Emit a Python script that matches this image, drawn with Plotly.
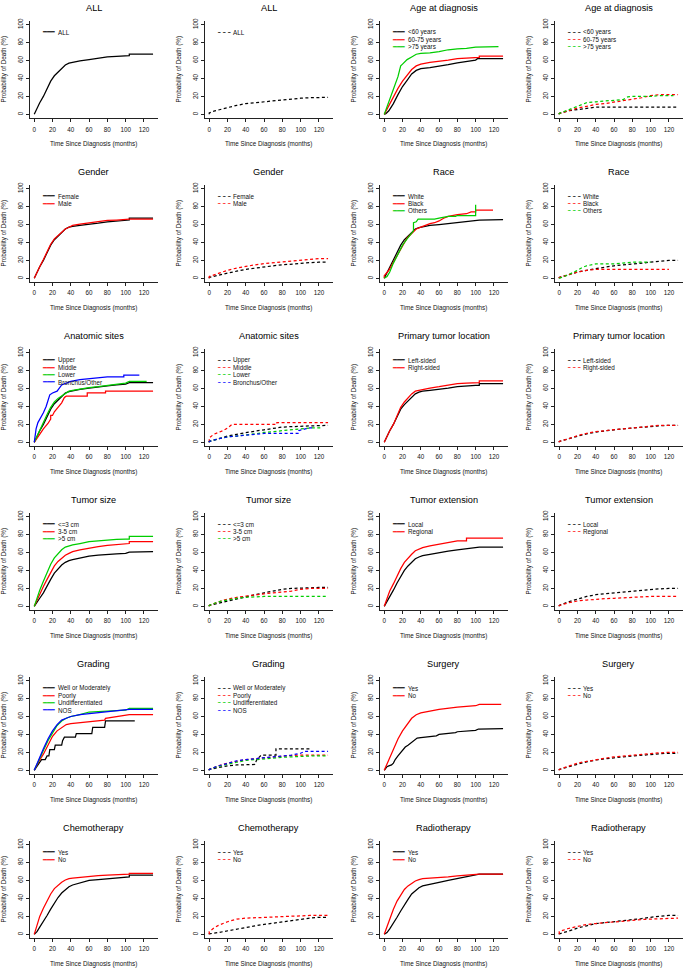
import plotly.graph_objects as go

# ---------------- data ----------------
BLACK, RED, GREEN, BLUE = "#000000", "#FF0000", "#00CD00", "#0000FF"

# Row 1
all_s_t = [0, 3, 6, 10, 14, 18, 22, 26, 30, 34, 38, 42, 50, 60, 70, 80, 90, 100, 104, 104, 130]
all_s_v = [0, 7, 13, 20, 29, 37, 43, 47, 51, 55, 57, 58, 59.5, 61, 62.5, 64, 64.5, 65.5, 65.5, 67, 67]
all_d_t = [0, 0, 5, 10, 20, 30, 40, 50, 60, 70, 80, 90, 100, 110, 120, 130]
all_d_v = [0, 1.5, 3.5, 5, 7.5, 10, 12, 13, 14, 15, 16.5, 17.5, 18, 18.5, 19, 19]

age_lt60_s_t = [0, 2, 5, 10, 15, 20, 25, 30, 35, 40, 50, 60, 70, 80, 90, 100, 102, 130]
age_lt60_s_v = [0, 1, 4, 12, 22, 31, 38, 45, 49, 51, 52, 53.5, 55.5, 57.5, 59, 60.5, 62, 62]
age_6075_s_t = [0, 2, 5, 10, 15, 20, 25, 30, 35, 40, 50, 60, 70, 80, 90, 100, 104, 104, 130]
age_6075_s_v = [0, 4, 10, 19, 29, 37, 44, 50, 54, 56, 58, 59, 60.5, 62, 62.5, 63.5, 63.5, 65, 65]
age_gt75_s_t = [0, 2, 5, 10, 15, 18, 20, 25, 30, 35, 40, 50, 60, 70, 80, 90, 100, 125]
age_gt75_s_v = [0, 6, 15, 28, 42, 54, 56, 61, 64, 67, 68, 68.5, 70, 72, 73, 73.5, 75, 75.5]
age_lt60_d_t = [0, 0, 10, 20, 30, 40, 130]
age_lt60_d_v = [0, 1, 4, 5.5, 6.5, 8, 8]
age_6075_d_t = [0, 0, 10, 20, 30, 40, 50, 60, 70, 80, 90, 100, 110, 130]
age_6075_d_v = [0, 1, 4, 7, 9, 11, 12, 13.5, 15, 17, 18.5, 21, 22, 22]
age_gt75_d_t = [0, 0, 10, 20, 30, 40, 50, 60, 70, 75, 80, 90, 100, 110, 125]
age_gt75_d_v = [0, 1, 5, 9, 13, 14, 15, 16, 16.5, 19.5, 20, 20, 20, 21, 21]

# Row 2
fem_s_t = [0, 3, 6, 10, 14, 18, 22, 26, 30, 34, 38, 42, 50, 60, 70, 80, 90, 100, 104, 104, 130]
fem_s_v = [0, 7, 13, 20, 29, 37, 43, 47, 51, 55, 57, 58, 59, 60, 61.5, 63, 64, 65, 65, 67, 67]
male_s_t = [0, 3, 6, 10, 14, 18, 22, 26, 30, 34, 38, 42, 50, 60, 70, 80, 90, 100, 104, 130]
male_s_v = [0, 7, 13, 21, 30, 38, 44, 48, 52, 55, 57, 59, 60.5, 62, 63, 64.5, 65, 65.5, 66, 66]
fem_d_t = [0, 0, 10, 20, 30, 40, 50, 60, 70, 80, 90, 100, 110, 120, 130]
fem_d_v = [0, 1, 3.5, 6, 8, 10, 11.5, 13, 14, 15, 16, 17, 17.5, 18, 18]
male_d_t = [0, 0, 10, 20, 30, 40, 50, 60, 70, 80, 90, 100, 110, 120, 130]
male_d_v = [0, 2, 5.5, 9, 11.5, 13.5, 15, 16.5, 17.5, 18.5, 19.5, 20.5, 21.5, 22, 22]

white_s_t = [0, 3, 6, 10, 14, 18, 22, 26, 30, 34, 38, 42, 50, 60, 70, 80, 90, 100, 104, 130]
white_s_v = [0, 6, 12, 20, 29, 37, 43, 47, 51, 55, 56.5, 57.5, 59, 60, 61, 62.5, 63.5, 64, 65, 65.5]
black_s_t = [0, 0, 5, 10, 15, 20, 25, 30, 35, 40, 45, 50, 55, 60, 65, 70, 80, 90, 95, 100, 100, 119]
black_s_v = [0, 3, 9, 18, 28, 37, 45, 50, 55, 57, 59, 61, 62, 64, 67, 69, 71, 72, 74, 74, 76, 76]
other_s_t = [0, 3, 6, 10, 15, 20, 25, 30, 32, 32, 35, 37, 55, 60, 70, 78, 80, 100, 100]
other_s_v = [0, 2, 7, 17, 27, 37, 44, 51, 53, 62, 63, 66, 66, 67, 69, 69, 70, 70, 82]
white_d_t = [0, 0, 10, 20, 30, 40, 50, 60, 70, 80, 90, 100, 110, 120, 130]
white_d_v = [0, 1, 4, 7, 9, 11, 12.5, 14, 15, 16.5, 17.5, 18.5, 19.5, 20, 20]
black_d_t = [0, 0, 10, 20, 30, 40, 120]
black_d_v = [0, 1, 4, 7, 9, 10, 10]
other_d_t = [0, 0, 10, 20, 25, 30, 40, 60, 70, 80, 100]
other_d_v = [0, 0, 4, 9, 12, 14, 16, 16, 17, 18, 18]

# Row 3
upper_s_t = [0, 3, 6, 10, 14, 18, 22, 26, 30, 34, 38, 42, 50, 60, 70, 80, 90, 100, 104, 130]
upper_s_v = [0, 7, 13, 20, 29, 37, 43, 47, 51, 55, 56.5, 57.5, 59, 60.5, 62, 63, 64, 65, 66.5, 66.5]
middle_s_t = [0, 5, 10, 15, 18, 18, 20, 22, 25, 28, 30, 33, 35, 58, 58, 78, 78, 130]
middle_s_v = [0, 8, 15, 21, 26, 30, 30, 34, 38, 41, 44, 50, 51.5, 51.5, 55, 55, 57, 57]
lower_s_t = [0, 3, 6, 10, 14, 18, 22, 26, 30, 34, 38, 42, 50, 60, 70, 80, 90, 100, 104, 123]
lower_s_v = [0, 7, 14, 22, 31, 39, 45, 49, 52, 55, 57, 58, 59.5, 61, 62, 63.5, 65, 66, 68, 68]
bronch_s_t = [0, 1, 2, 4, 7, 10, 13, 17, 20, 25, 30, 35, 40, 50, 60, 70, 80, 98, 98, 115]
bronch_s_v = [0, 8, 15, 22, 27, 33, 40, 53, 55, 57, 64, 66, 68, 70, 71, 72, 73, 73, 75, 75]
upper_d_t = [0, 0, 10, 20, 30, 40, 50, 60, 70, 80, 90, 100, 110, 120, 130]
upper_d_v = [0, 1, 4, 7, 9, 11, 12.5, 14, 15.5, 17, 17.5, 18, 18.5, 19, 19]
middle_d_t = [0, 0, 5, 10, 15, 20, 25, 74, 74, 130]
middle_d_v = [0, 5, 9, 11, 13, 16, 20, 20, 22, 22]
lower_d_t = [0, 0, 10, 20, 30, 40, 50, 60, 70, 80, 90, 100, 110, 122]
lower_d_v = [0, 1, 4, 6, 7, 8, 9.5, 11, 12, 13, 14, 15, 16, 16]
bronch_d_t = [0, 0, 10, 20, 30, 40, 60, 98, 98, 105, 110, 115]
bronch_d_v = [0, 1, 4, 6, 7, 8, 10, 10, 13, 15, 16, 16]

left_s_t = [0, 3, 6, 10, 14, 18, 22, 26, 30, 34, 38, 42, 50, 60, 70, 80, 90, 100, 104, 104, 130]
left_s_v = [0, 7, 13, 20, 29, 37, 42, 46, 50, 54, 56, 57, 58, 59, 60.5, 62, 63, 63.5, 63.5, 65.5, 65.5]
right_s_t = [0, 3, 6, 10, 14, 18, 22, 26, 30, 34, 38, 42, 50, 60, 70, 80, 90, 100, 104, 104, 130]
right_s_v = [0, 7, 13, 20, 30, 39, 45, 50, 54, 57, 58, 59, 60.5, 62, 63.5, 65.5, 66, 66.5, 66.5, 68.5, 68.5]
left_d_t = [0, 0, 10, 20, 30, 40, 50, 60, 70, 80, 90, 100, 110, 120, 130]
left_d_v = [0, 1, 4, 7, 9.5, 11.5, 13, 14, 15, 16, 17, 18, 18.5, 19, 19]
right_d_t = [0, 0, 10, 20, 30, 40, 50, 60, 70, 80, 90, 100, 110, 120, 130]
right_d_v = [0, 1, 4, 7.5, 10, 12, 13, 14, 15.5, 16.5, 17.5, 18.5, 19, 19, 19]

# Row 4
sz3_s_t = [0, 3, 6, 10, 14, 18, 22, 26, 30, 34, 38, 42, 50, 60, 70, 80, 90, 100, 104, 130]
sz3_s_v = [0, 4, 9, 15, 23, 30, 37, 42, 46, 49, 51, 52, 54, 56, 57, 58, 58.5, 59, 60.5, 61]
sz35_s_t = [0, 3, 6, 10, 14, 18, 22, 26, 30, 34, 38, 42, 50, 60, 70, 80, 90, 100, 104, 104, 130]
sz35_s_v = [0, 7, 14, 22, 30, 38, 45, 50, 54, 57, 59, 61, 63, 65, 66.5, 68, 69, 70, 70, 72, 72]
sz5_s_t = [0, 3, 6, 10, 14, 18, 22, 26, 30, 34, 38, 42, 50, 60, 70, 80, 90, 100, 104, 104, 130]
sz5_s_v = [0, 10, 18, 28, 38, 47, 54, 59, 63, 66, 67.5, 68.5, 70, 72, 73, 74, 74.5, 75, 75, 78, 78]
sz3_d_t = [0, 0, 10, 20, 30, 40, 50, 60, 70, 80, 90, 100, 110, 120, 130]
sz3_d_v = [0, 1, 3.5, 6, 8.5, 11, 13, 15, 17, 19, 20, 20.5, 21, 21, 21]
sz35_d_t = [0, 0, 10, 20, 30, 40, 50, 60, 70, 80, 90, 100, 110, 120, 130]
sz35_d_v = [0, 1, 5, 8, 10, 11.5, 13, 14, 15, 16, 17, 19, 20, 20, 20]
sz5_d_t = [0, 0, 10, 20, 30, 40, 50, 60, 80, 100, 130]
sz5_d_v = [0, 1, 5, 7, 9, 10, 10.5, 11, 11, 11, 11]

local_s_t = [0, 3, 6, 10, 14, 18, 22, 26, 30, 34, 38, 42, 50, 60, 70, 80, 90, 100, 104, 130]
local_s_v = [0, 5, 11, 18, 26, 33, 40, 45, 49, 53, 55, 56.5, 58, 60, 61.5, 63, 64, 65, 66, 66]
regional_s_t = [0, 3, 6, 10, 14, 18, 22, 26, 30, 34, 38, 42, 50, 60, 70, 80, 90, 90, 130]
regional_s_v = [0, 9, 17, 25, 34, 42, 49, 54, 58, 62, 64, 65.5, 67.5, 69.5, 71, 73, 73, 76, 76]
local_d_t = [0, 0, 10, 20, 30, 40, 50, 60, 70, 80, 90, 100, 110, 120, 130]
local_d_v = [0, 1, 5, 8, 11, 13, 14, 15, 16, 17, 18, 19, 19.5, 20, 20]
regional_d_t = [0, 0, 10, 20, 30, 40, 50, 60, 70, 80, 90, 100, 130]
regional_d_v = [0, 1, 4, 6, 7, 8, 8.5, 9, 9.5, 10, 10.5, 11, 11]

# Row 5
well_s_t = [0, 3, 6, 8, 12, 14, 16, 17, 22, 23, 30, 31, 33, 45, 46, 63, 64, 77, 78, 110]
well_s_v = [0, 5, 10, 12, 12, 16, 16, 23, 23, 28, 28, 33, 37, 37, 41, 41, 48, 48, 55, 55]
poor_s_t = [0, 5, 10, 15, 20, 25, 30, 35, 40, 50, 60, 70, 77, 78, 90, 100, 104, 130]
poor_s_v = [0, 10, 18, 28, 38, 44, 48, 51, 52, 53, 54, 55, 56, 58, 59.5, 61, 62, 62]
undiff_s_t = [0, 5, 10, 15, 20, 25, 30, 35, 40, 50, 60, 80, 100, 104, 130]
undiff_s_v = [0, 12, 22, 33, 42, 50, 55, 58, 60, 62, 65, 66, 67, 69, 69]
nos_s_t = [0, 5, 10, 15, 20, 25, 30, 35, 40, 50, 60, 80, 100, 104, 130]
nos_s_v = [0, 13, 24, 35, 44, 51, 56, 58, 60, 62, 63, 65, 67, 68, 68]
well_d_t = [0, 0, 10, 20, 30, 50, 52, 57, 73, 73, 112]
well_d_v = [0, 1, 3, 5, 6, 6.5, 12, 17, 17, 24, 24]
poor_d_t = [0, 0, 10, 20, 30, 40, 50, 60, 70, 80, 90, 100, 110, 130]
poor_d_v = [0, 1, 5, 8, 10, 12, 13, 14, 15, 16, 16.5, 17, 17, 17]
undiff_d_t = [0, 0, 10, 20, 30, 40, 50, 60, 70, 80, 90, 100, 110, 130]
undiff_d_v = [0, 1, 4.5, 7, 9, 11, 12, 13, 14, 14.5, 15, 15.5, 16, 16]
nos_d_t = [0, 0, 10, 20, 30, 40, 50, 60, 70, 80, 90, 100, 104, 130]
nos_d_v = [0, 1, 5, 8, 10.5, 12, 13, 14, 15, 16, 17, 19, 21, 21]

surg_yes_s_t = [0, 3, 5, 8, 10, 12, 15, 18, 20, 23, 26, 30, 33, 36, 40, 50, 57, 60, 70, 78, 80, 100, 103, 130]
surg_yes_s_v = [0, 4, 5, 6, 8, 12, 16, 20, 22, 26, 28, 31, 34, 36, 36.5, 38, 38.5, 40, 41, 42, 43, 44.5, 46, 46.5]
surg_no_s_t = [0, 5, 10, 15, 20, 25, 30, 35, 40, 50, 60, 80, 100, 104, 128]
surg_no_s_v = [0, 12, 24, 35, 44, 51, 58, 62, 64, 66, 68, 70.5, 72, 73.5, 73.5]
surg_yes_d_t = [0, 0, 10, 20, 30, 40, 50, 60, 70, 80, 90, 100, 110, 120, 130]
surg_yes_d_v = [0, 1, 4, 7, 9.5, 11.5, 13, 14, 15, 16, 17, 18, 18.5, 19, 19]
surg_no_d_t = [0, 0, 10, 20, 30, 40, 50, 60, 70, 80, 90, 100, 110, 120, 130]
surg_no_d_v = [0, 1, 4.5, 8, 10, 12, 13.5, 15, 16, 17, 18, 19, 19.5, 20, 20]

# Row 6
chemo_yes_s_t = [0, 3, 6, 10, 14, 18, 22, 26, 30, 34, 38, 42, 50, 60, 70, 80, 90, 100, 104, 104, 130]
chemo_yes_s_v = [0, 3, 8, 14, 21, 28, 35, 41, 46, 50, 53, 55, 57.5, 60, 61, 62, 63, 64, 64, 66, 66]
chemo_no_s_t = [0, 3, 6, 10, 14, 18, 22, 26, 30, 34, 38, 42, 50, 60, 70, 80, 90, 100, 104, 104, 130]
chemo_no_s_v = [0, 11, 20, 29, 38, 45, 51, 55, 58, 60.5, 62, 62.5, 63.5, 64.5, 65.5, 66, 66.5, 67, 67, 68, 68]
chemo_yes_d_t = [0, 0, 10, 20, 30, 40, 50, 60, 70, 80, 90, 100, 110, 120, 130]
chemo_yes_d_v = [0, 0.5, 2, 4, 6, 8, 9.5, 11, 12.5, 14, 15.5, 17, 18, 19, 19]
chemo_no_d_t = [0, 0, 5, 10, 20, 30, 40, 50, 60, 70, 80, 90, 100, 110, 130]
chemo_no_d_v = [0, 3, 7, 10, 14, 17, 18, 18.5, 19, 19.5, 20, 20.5, 21, 21, 21]

radio_yes_s_t = [0, 3, 6, 10, 14, 18, 22, 26, 30, 34, 38, 42, 50, 60, 70, 80, 90, 100, 104, 130]
radio_yes_s_v = [0, 2, 6, 12, 19, 26, 33, 39, 45, 49, 52, 54, 56, 58, 60, 62, 64, 66, 67, 67]
radio_no_s_t = [0, 3, 6, 10, 14, 18, 22, 26, 30, 34, 38, 42, 50, 60, 70, 80, 90, 100, 104, 130]
radio_no_s_v = [0, 9, 18, 28, 37, 44, 50, 54, 57, 59.5, 61, 62, 62.5, 63, 64, 65, 66, 66.5, 67, 67]
radio_yes_d_t = [0, 0, 10, 20, 30, 40, 50, 60, 70, 80, 90, 100, 110, 120, 130]
radio_yes_d_v = [0, 0.5, 3.5, 7, 9.5, 12, 13, 14, 15, 16, 17.5, 19, 20, 21, 21]
radio_no_d_t = [0, 0, 10, 20, 30, 40, 50, 60, 70, 80, 90, 100, 110, 120, 130]
radio_no_d_v = [0, 3, 6.5, 9, 11, 12, 13, 14, 15, 16, 16.5, 17, 17.5, 18, 18]

x_ticks = [0, 20, 40, 60, 80, 100, 120]
y_ticks = [0, 20, 40, 60, 80, 100]
x_title = "Time Since Diagnosis (months)"
y_title = "Probability of Death (%)"

panels = [
    ("ALL", False, [("ALL", BLACK, all_s_t, all_s_v)]),
    ("ALL", True, [("ALL", BLACK, all_d_t, all_d_v)]),
    ("Age at diagnosis", False, [("&lt;60 years", BLACK, age_lt60_s_t, age_lt60_s_v),
                                 ("60-75 years", RED, age_6075_s_t, age_6075_s_v),
                                 ("&gt;75 years", GREEN, age_gt75_s_t, age_gt75_s_v)]),
    ("Age at diagnosis", True, [("&lt;60 years", BLACK, age_lt60_d_t, age_lt60_d_v),
                                ("60-75 years", RED, age_6075_d_t, age_6075_d_v),
                                ("&gt;75 years", GREEN, age_gt75_d_t, age_gt75_d_v)]),
    ("Gender", False, [("Female", BLACK, fem_s_t, fem_s_v), ("Male", RED, male_s_t, male_s_v)]),
    ("Gender", True, [("Female", BLACK, fem_d_t, fem_d_v), ("Male", RED, male_d_t, male_d_v)]),
    ("Race", False, [("White", BLACK, white_s_t, white_s_v), ("Black", RED, black_s_t, black_s_v),
                     ("Others", GREEN, other_s_t, other_s_v)]),
    ("Race", True, [("White", BLACK, white_d_t, white_d_v), ("Black", RED, black_d_t, black_d_v),
                    ("Others", GREEN, other_d_t, other_d_v)]),
    ("Anatomic sites", False, [("Upper", BLACK, upper_s_t, upper_s_v), ("Middle", RED, middle_s_t, middle_s_v),
                               ("Lower", GREEN, lower_s_t, lower_s_v),
                               ("Bronchus/Other", BLUE, bronch_s_t, bronch_s_v)]),
    ("Anatomic sites", True, [("Upper", BLACK, upper_d_t, upper_d_v), ("Middle", RED, middle_d_t, middle_d_v),
                              ("Lower", GREEN, lower_d_t, lower_d_v),
                              ("Bronchus/Other", BLUE, bronch_d_t, bronch_d_v)]),
    ("Primary tumor location", False, [("Left-sided", BLACK, left_s_t, left_s_v),
                                       ("Right-sided", RED, right_s_t, right_s_v)]),
    ("Primary tumor location", True, [("Left-sided", BLACK, left_d_t, left_d_v),
                                      ("Right-sided", RED, right_d_t, right_d_v)]),
    ("Tumor size", False, [("&lt;=3 cm", BLACK, sz3_s_t, sz3_s_v), ("3-5 cm", RED, sz35_s_t, sz35_s_v),
                           ("&gt;5 cm", GREEN, sz5_s_t, sz5_s_v)]),
    ("Tumor size", True, [("&lt;=3 cm", BLACK, sz3_d_t, sz3_d_v), ("3-5 cm", RED, sz35_d_t, sz35_d_v),
                          ("&gt;5 cm", GREEN, sz5_d_t, sz5_d_v)]),
    ("Tumor extension", False, [("Local", BLACK, local_s_t, local_s_v),
                                ("Regional", RED, regional_s_t, regional_s_v)]),
    ("Tumor extension", True, [("Local", BLACK, local_d_t, local_d_v),
                               ("Regional", RED, regional_d_t, regional_d_v)]),
    ("Grading", False, [("Well or Moderately", BLACK, well_s_t, well_s_v), ("Poorly", RED, poor_s_t, poor_s_v),
                        ("Undifferentiated", GREEN, undiff_s_t, undiff_s_v), ("NOS", BLUE, nos_s_t, nos_s_v)]),
    ("Grading", True, [("Well or Moderately", BLACK, well_d_t, well_d_v), ("Poorly", RED, poor_d_t, poor_d_v),
                       ("Undifferentiated", GREEN, undiff_d_t, undiff_d_v), ("NOS", BLUE, nos_d_t, nos_d_v)]),
    ("Surgery", False, [("Yes", BLACK, surg_yes_s_t, surg_yes_s_v), ("No", RED, surg_no_s_t, surg_no_s_v)]),
    ("Surgery", True, [("Yes", BLACK, surg_yes_d_t, surg_yes_d_v), ("No", RED, surg_no_d_t, surg_no_d_v)]),
    ("Chemotherapy", False, [("Yes", BLACK, chemo_yes_s_t, chemo_yes_s_v), ("No", RED, chemo_no_s_t, chemo_no_s_v)]),
    ("Chemotherapy", True, [("Yes", BLACK, chemo_yes_d_t, chemo_yes_d_v), ("No", RED, chemo_no_d_t, chemo_no_d_v)]),
    ("Radiotherapy", False, [("Yes", BLACK, radio_yes_s_t, radio_yes_s_v), ("No", RED, radio_no_s_t, radio_no_s_v)]),
    ("Radiotherapy", True, [("Yes", BLACK, radio_yes_d_t, radio_yes_d_v), ("No", RED, radio_no_d_t, radio_no_d_v)]),
]

# ---------------- layout ----------------
W, H = 685, 972
FONT = "Liberation Sans, Arial, Helvetica, sans-serif"
MONO = "DejaVu Sans Mono, monospace"
AX = "#222222"
PW, PH = 128.3, 97.2          # plot-area size in px
X0, DX = 29.5, 175.0           # left of first column, column pitch
Y0, DY = 18.1, 164.5           # top of first row, row pitch
DASH = "3px,2.5px"

fig = go.Figure()
annotations = []
layout_axes = {}

for i, (title, dashed, series) in enumerate(panels):
    r, c = divmod(i, 4)
    n = i + 1
    sfx = "" if n == 1 else str(n)
    xa, ya = "x" + sfx, "y" + sfx
    left = X0 + DX * c
    top = Y0 + DY * r
    xdom = [left / W, (left + PW) / W]
    ydom = [1 - (top + PH) / H, 1 - top / H]
    layout_axes["xaxis" + sfx] = dict(
        domain=xdom, anchor=ya, range=[-5.2, 135.2], tickvals=x_ticks,
        ticks="outside", ticklen=3, tickwidth=1, tickcolor=AX,
        showline=True, linecolor=AX, linewidth=1, showgrid=False, zeroline=False,
        tickfont=dict(family=FONT, size=6.3, color="#111"), ticklabelstandoff=2,
        fixedrange=True)
    layout_axes["yaxis" + sfx] = dict(
        domain=ydom, anchor=xa, range=[-4, 104], tickvals=y_ticks,
        ticks="outside", ticklen=3, tickwidth=1, tickcolor=AX, tickangle=-90,
        showline=True, linecolor=AX, linewidth=1, showgrid=False, zeroline=False,
        tickfont=dict(family=FONT, size=6.3, color="#111"),
        fixedrange=True)

    for (lab, col, t, v) in series:
        fig.add_trace(go.Scatter(
            x=t, y=v, mode="lines", name=lab, xaxis=xa, yaxis=ya,
            line=dict(color=col, width=1.25, dash=DASH if dashed else "solid"),
            showlegend=False, hoverinfo="skip"))

    # panel title and axis titles
    annotations.append(dict(text=title, x=0.5, y=1, xref=xa + " domain", yref=ya + " domain",
                            xanchor="center", yanchor="middle", yshift=13, showarrow=False,
                            font=dict(family=FONT, size=9.2, color="#000")))
    annotations.append(dict(text=x_title, x=0.5, y=0, xref=xa + " domain", yref=ya + " domain",
                            xanchor="center", yanchor="middle", yshift=-26.4, showarrow=False,
                            font=dict(family=FONT, size=6.3, color="#111")))
    annotations.append(dict(text=y_title, x=0, y=0.5, xref=xa + " domain", yref=ya + " domain",
                            xanchor="center", yanchor="middle", xshift=-25.5, textangle=-90,
                            showarrow=False, font=dict(family=FONT, size=6.3, color="#111")))

    # legend (top-left inside the panel)
    for j, (lab, col, t, v) in enumerate(series):
        ly = 91.5 - 8.2 * j
        if dashed:
            sample, sfont = "━ ━ ━", dict(family=MONO, size=4.2, color=col)
        else:
            sample, sfont = "━━━", dict(family=MONO, size=6.5, color=col)
        annotations.append(dict(text=sample, x=6, y=ly, xref=xa, yref=ya, xanchor="left",
                                yanchor="middle", showarrow=False, font=sfont))
        annotations.append(dict(text=lab, x=24, y=ly, xref=xa, yref=ya, xanchor="left",
                                yanchor="middle", showarrow=False,
                                font=dict(family=FONT, size=6.3, color="#111")))

fig.update_layout(
    width=W, height=H, margin=dict(l=0, r=0, t=0, b=0),
    paper_bgcolor="white", plot_bgcolor="white", showlegend=False,
    annotations=annotations, **layout_axes)

fig.write_html("out.html", config={"displayModeBar": False},
               post_script="document.body.style.margin='0';document.body.style.overflow='hidden';")
